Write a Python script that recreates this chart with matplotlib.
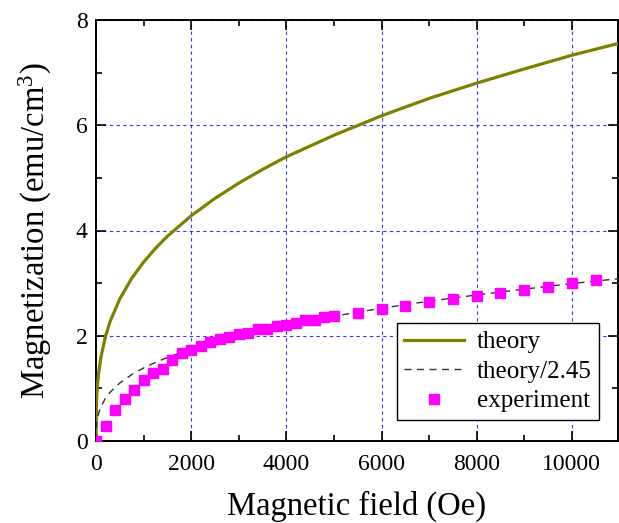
import matplotlib
matplotlib.use("Agg")
import matplotlib.pyplot as plt
from matplotlib.ticker import MultipleLocator

plt.rcParams['font.family'] = ['Liberation Serif', 'DejaVu Serif']
plt.rcParams['mathtext.fontset'] = 'custom'
plt.rcParams['mathtext.rm'] = 'Liberation Serif'
plt.rcParams['mathtext.it'] = 'Liberation Serif:italic'

# theory curve
theory_H = [0, 10, 25, 50, 100, 200, 300, 500, 750, 1000, 1250, 1500, 2000, 2500,
            3000, 3500, 4000, 5000, 6000, 7000, 8000, 9000, 10000, 11000]
theory_M = [0, 0.73, 1.00, 1.25, 1.58, 1.99, 2.28, 2.70, 3.09, 3.40, 3.66, 3.89, 4.28, 4.61,
            4.90, 5.16, 5.40, 5.81, 6.18, 6.51, 6.80, 7.07, 7.33, 7.56]
scale_factor = 2.45

# experiment
exp_H = [0, 200, 400, 600, 800, 1000, 1200, 1400, 1600, 1800, 2000, 2200, 2400, 2600,
         2800, 3000, 3200, 3400, 3600, 3800, 4000, 4200, 4400, 4600, 4800, 5000,
         5500, 6000, 6500, 7000, 7500, 8000, 8500, 9000, 9500, 10000, 10500]
exp_M = [0, 0.29, 0.58, 0.79, 0.97, 1.15, 1.29, 1.37, 1.53, 1.68, 1.73, 1.80, 1.88, 1.93,
         1.98, 2.03, 2.06, 2.12, 2.13, 2.19, 2.21, 2.24, 2.29, 2.30, 2.35, 2.38,
         2.43, 2.51, 2.57, 2.64, 2.69, 2.76, 2.81, 2.87, 2.93, 3.00, 3.05]

fig = plt.figure(figsize=(6.19, 5.23), dpi=100)
ax = fig.add_axes([96/619, 1-441/523, (618-96)/619, (441-20)/523])

ax.plot(theory_H, theory_M, color='#808000', lw=2.3, label='theory', zorder=3)
ax.plot(theory_H, [m/scale_factor for m in theory_M], color='#333333', lw=1.0,
        ls=(0, (5, 4)), label='theory/2.45', zorder=3)
ax.plot(exp_H, exp_M, ls='none', marker='s', ms=7, color='#ff00ff', mec='#ff00ff',
        label='experiment', zorder=4)

ax.set_xlim(0, 10970)
ax.set_ylim(0, 8)
ax.xaxis.set_major_locator(MultipleLocator(2000))
ax.xaxis.set_minor_locator(MultipleLocator(1000))
ax.yaxis.set_major_locator(MultipleLocator(2))
ax.yaxis.set_minor_locator(MultipleLocator(1))
ax.tick_params(which='both', direction='in', top=True, right=True, width=1.2)
ax.tick_params(which='major', length=7, labelsize=17, pad=6)
ax.tick_params(axis='x', which='major', pad=9.5)
ax.tick_params(which='minor', length=4)
for s in ax.spines.values():
    s.set_linewidth(1.4)

ax.grid(True, which='major', color='#0000ff', ls=(0, (3, 3)), lw=0.8, alpha=0.8)
ax.set_axisbelow(True)

ax.set_xlabel('Magnetic field (Oe)', fontsize=23.5, labelpad=11.5)
ax.set_ylabel('Magnetization (emu/cm$^3$)', fontsize=23.5, labelpad=15.5)

leg = ax.legend(loc='lower right', bbox_to_anchor=(0.964, 0.05), borderaxespad=0,
                fontsize=18, frameon=True, fancybox=False, edgecolor='black',
                framealpha=1, handlelength=2.4, handletextpad=0.5, labelspacing=0.28,
                borderpad=0.3)
leg.get_frame().set_linewidth(1.0)

fig.savefig('out.png', dpi=100)
